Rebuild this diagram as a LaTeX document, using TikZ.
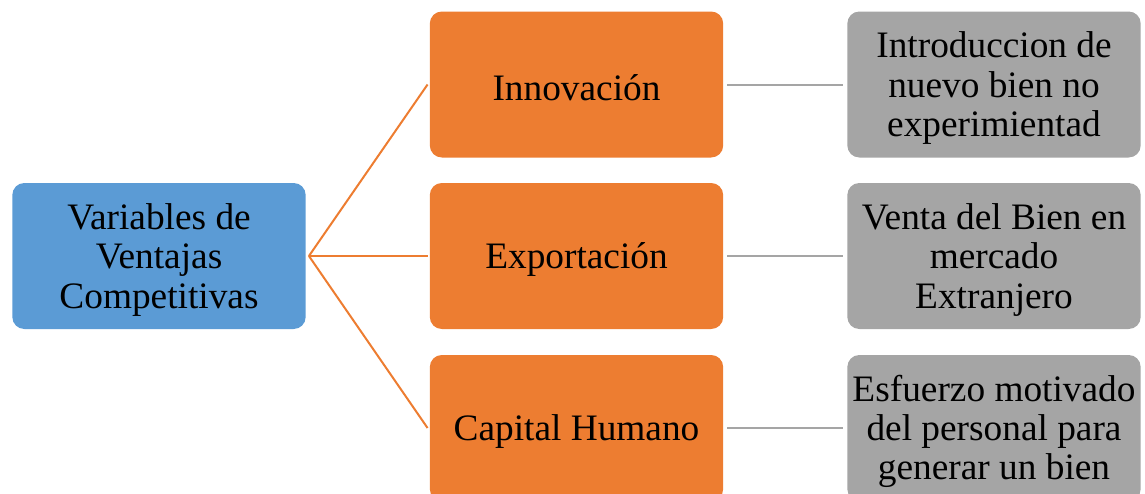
\documentclass[tikz,border=0pt]{standalone}
\usepackage{fontspec}
\setmainfont{Liberation Serif}
\usepackage{tikz}
\usepackage{xcolor}

\definecolor{azulbox}{HTML}{5B9BD5}
\definecolor{naranjabox}{HTML}{ED7D31}
\definecolor{grisbox}{HTML}{A5A5A5}

\newcommand{\alto}{\rule{0pt}{25pt}}

\tikzset{
  caja/.style={rounded corners=9pt, minimum width=220pt, minimum height=109.5pt, inner sep=0.75pt, align=center, font=\fontsize{28}{29.5}\selectfont},
  lineanaranja/.style={draw=naranjabox, line width=1.5pt},
  lineagris/.style={draw=grisbox, line width=1.5pt}
}

\begin{document}
\begin{tikzpicture}[x=0.75pt,y=0.75pt,yscale=-1,xscale=1]
\useasboundingbox (0,0) rectangle (1145,493);
\clip (0,0) rectangle (1145,493);
\node [caja, fill=azulbox] (variables) at (159,256) {\alto Variables de\\Ventajas\\Competitivas};
\node [caja, fill=naranjabox] (innovacion) at (576.5,84.5) {\alto Innovación};
\node [caja, fill=naranjabox] (exportacion) at (576.5,256) {\alto Exportación};
\node [caja, fill=naranjabox] (capital) at (576.5,428) {\alto Capital Humano};
\node [caja, fill=grisbox] (introduccion) at (994,84.5) {\alto Introduccion de\\nuevo bien no\\experimientad};
\node [caja, fill=grisbox] (venta) at (994,256) {\alto Venta del Bien en\\mercado\\Extranjero};
\node [caja, fill=grisbox] (esfuerzo) at (994,428) {\alto Esfuerzo motivado\\del personal para\\generar un bien};
\coordinate (raiz) at ([xshift=2.25pt]variables.east);
\draw [lineanaranja] (raiz) -- ([xshift=-1.5pt]innovacion.west);
\draw [lineanaranja] (raiz) -- ([xshift=-1.5pt]exportacion.west);
\draw [lineanaranja] (raiz) -- ([xshift=-1.5pt]capital.west);
\draw [lineagris] ([xshift=3pt]innovacion.east) -- ([xshift=-3pt]introduccion.west);
\draw [lineagris] ([xshift=3pt]exportacion.east) -- ([xshift=-3pt]venta.west);
\draw [lineagris] ([xshift=3pt]capital.east) -- ([xshift=-3pt]esfuerzo.west);
\end{tikzpicture}
\end{document}
